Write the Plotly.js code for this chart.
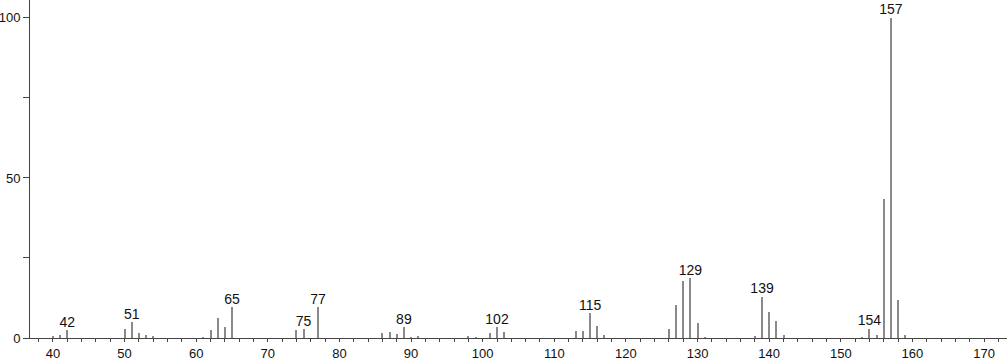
<!DOCTYPE html>
<html>
<head>
<meta charset="utf-8">
<script src="https://cdn.plot.ly/plotly-3.0.1.min.js"></script>
<style>
html,body{margin:0;padding:0;background:#fff;}
#chart{width:1007px;height:362px;}
</style>
</head>
<body>
<div id="chart"></div>
<script>
// m/z values and relative intensities
const mz = [40, 41, 42, 50, 51, 52, 53, 54, 61, 62, 63, 64, 65, 74, 75, 77,
            86, 87, 88, 89, 90, 91, 98, 99, 101, 102, 103, 113, 114, 115, 116, 117,
            126, 127, 128, 129, 130, 131, 138, 139, 140, 141, 142,
            153, 154, 155, 156, 157, 158, 159];
const intensity = [0.5, 1.0, 2.5, 2.7, 4.9, 1.6, 1.0, 0.5, 0.4, 2.6, 6.2, 3.4, 9.6, 2.6, 2.8, 9.6,
                   1.6, 1.9, 1.2, 3.4, 0.3, 0.6, 0.7, 0.4, 1.6, 3.4, 1.9, 2.3, 2.3, 7.8, 3.6, 1.0,
                   2.8, 10.2, 17.8, 18.6, 4.8, 0.4, 0.5, 12.9, 8.2, 5.2, 0.8,
                   0.4, 2.9, 0.8, 43.4, 100, 11.9, 0.8];
// peaks that carry a label
const labelledPeaks = [42, 51, 65, 75, 77, 89, 102, 115, 129, 139, 154, 157];

const labelY = labelledPeaks.map(m => intensity[mz.indexOf(m)]);
const labelText = labelledPeaks.map(m => String(m));

const bars = {
  type: 'bar',
  x: mz,
  y: intensity,
  width: 0.28,
  marker: {color: '#8a8a8a', line: {width: 0}},
  hoverinfo: 'x+y',
  showlegend: false
};

const labels = {
  type: 'scatter',
  mode: 'text',
  x: labelledPeaks,
  y: labelY,
  text: labelText,
  textposition: 'top center',
  textfont: {family: 'Liberation Sans, Arial, sans-serif', size: 14, color: '#111'},
  cliponaxis: false,
  hoverinfo: 'skip',
  showlegend: false
};

const layout = {
  width: 1007,
  height: 362,
  margin: {l: 30, r: 0, t: 0, b: 24, pad: 0},
  paper_bgcolor: '#ffffff',
  plot_bgcolor: '#ffffff',
  font: {family: 'Liberation Sans, Arial, sans-serif', size: 13, color: '#111'},
  bargap: 0,
  xaxis: {
    range: [36.8, 173.2],
    tickmode: 'linear',
    tick0: 40,
    dtick: 10,
    ticks: 'outside',
    ticklen: 3,
    tickwidth: 1,
    tickcolor: '#444',
    showline: true,
    linecolor: '#444',
    linewidth: 1,
    showgrid: false,
    zeroline: false,
    tickfont: {size: 13, color: '#111'},
    minor: {dtick: 2, tick0: 40, ticks: 'outside', ticklen: 3, tickcolor: '#444', showgrid: false}
  },
  yaxis: {
    range: [0, 105.6],
    tickmode: 'array',
    tickvals: [0, 50, 100],
    ticktext: ['0', '50', '100'],
    ticks: 'outside',
    ticklen: 6,
    tickwidth: 1,
    tickcolor: '#444',
    showline: true,
    linecolor: '#444',
    linewidth: 1,
    showgrid: false,
    zeroline: false,
    tickfont: {size: 13, color: '#111'},
    minor: {tickvals: [25, 75], ticks: 'outside', ticklen: 6, tickcolor: '#444', showgrid: false}
  }
};

Plotly.newPlot('chart', [bars, labels], layout, {displayModeBar: false, staticPlot: true});
</script>
</body>
</html>
